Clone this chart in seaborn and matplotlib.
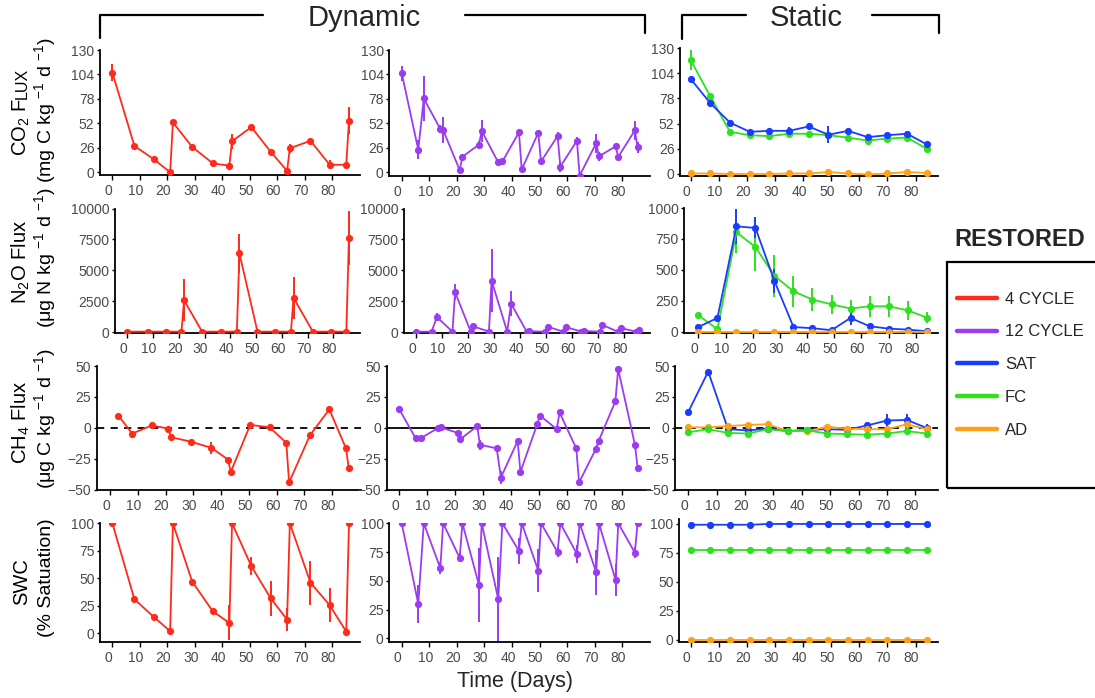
import matplotlib
matplotlib.use("Agg")
import matplotlib.pyplot as plt
import pandas as pd
import seaborn as sns
from matplotlib.lines import Line2D
from matplotlib.patches import Rectangle
from matplotlib.transforms import ScaledTranslation

# ------------------------------------------------------------------ data
# Dynamic, 4 rewetting cycles
days_4cycle = [0, 8, 15, 21, 22, 29, 36.5, 42.5, 43.5, 50.5, 57.5, 63.5, 64.5, 72, 79, 85, 86]
days_4cycle_ch4 = [3, 8, 15, 21, 22, 29, 36.5, 42.5, 43.5, 50.5, 57.5, 63.5, 64.5, 72, 79, 85, 86]
co2_4cycle = [106, 28, 14, 0, 53, 27, 9.5, 7, 33, 48, 22, 1.5, 25.5, 33.5, 8, 8, 55]
co2_4cycle_se = [9, 3, 2, 1, 2, 2, 1.5, 2, 8, 2, 2, 1, 5, 2, 5, 2, 14]
n2o_4cycle = [30, 30, 30, 30, 2580, 30, 30, 30, 6370, 30, 30, 30, 2770, 30, 30, 30, 7600]
n2o_4cycle_se = [20, 20, 20, 20, 1680, 20, 20, 20, 1570, 20, 20, 20, 1680, 20, 20, 20, 2200]
ch4_4cycle = [10, -4.5, 2, -0.5, -7.5, -11, -16, -25.5, -35.5, 2.5, 0.5, -12, -44, -6, 15, -16.5, -32.5]
ch4_4cycle_se = [1, 1, 1, 1, 1, 1, 5, 1.5, 2, 1, 1, 1.5, 2, 1, 1.5, 2, 2]
swc_4cycle = [100, 31, 15, 2, 100, 47, 20, 9.5, 100, 61, 32, 12.5, 100, 46, 25.5, 1.5, 100]
swc_4cycle_se = [0, 2, 2, 2, 0, 2, 2, 16, 0, 8, 16, 10.5, 0, 20, 15.5, 3, 0]

# Dynamic, 12 rewetting cycles
days_12cycle = [0, 6, 8, 14, 15, 21, 22, 28, 29, 35, 36.5, 42.5, 43.5, 49.5, 50.5,
                56.5, 57.5, 63.5, 64.5, 70.5, 71.5, 77.5, 78.5, 84.5, 85.5]
co2_12cycle = [105.5, 24, 78.5, 46, 45, 2.5, 16.5, 29.5, 44, 10.5, 11.5, 42.5, 3, 42, 11.5,
               38.5, 6, 33.5, -3.5, 31, 17, 27.5, 16.5, 44.5, 26.5]
co2_12cycle_se = [8, 10, 24, 4, 13.5, 1.5, 3, 4, 11.5, 3, 2, 4, 1.5, 2, 2,
                  4, 6, 4, 1.5, 10, 5, 2, 3, 10, 6]
n2o_12cycle = [30, 30, 1210, 30, 3225, 30, 460, 30, 4170, 30, 2290, 30, 60, 30, 435,
               30, 403, 30, 80, 30, 565, 30, 323, 30, 194]
n2o_12cycle_se = [10, 10, 300, 10, 640, 10, 100, 10, 2550, 10, 1030, 10, 30, 10, 80,
                  10, 80, 10, 30, 10, 100, 10, 60, 10, 60]
ch4_12cycle = [15.5, -8.5, -8, 0, 0.5, -4, -9, 1.5, -13.5, -16.5, -40, -10.5, -35.5, 3, 10,
               -1, 12.5, -16.5, -44, -17, -10.5, 21.5, 47.5, -13.5, -32.5]
ch4_12cycle_se = [1, 1, 1, 1, 1, 1, 1, 1, 4, 1, 5, 1, 1, 1, 1,
                  1, 1, 1, 1, 1, 1, 1, 1, 1, 1]
swc_12cycle = [100, 30, 100, 61, 100, 70, 100, 46.5, 100, 34, 100, 76, 100, 59, 100,
               75, 100, 73.5, 100, 57.5, 100, 51, 100, 74.5, 100]
swc_12cycle_se = [0, 16.5, 0, 5, 0, 4, 0, 32, 0, 37, 0, 11, 0, 19, 0,
                  4, 0, 8, 0, 19.5, 0, 14, 0, 5, 0]

# Static moisture treatments
days_static = [0, 7, 14, 21, 28, 35, 42, 49, 56, 63, 70, 77, 84]
co2_sat = [98, 73, 53, 43.5, 44.5, 44.5, 49, 40.5, 44.5, 38, 40, 41.5, 30.5]
co2_sat_se = [2, 2, 2, 2, 2, 4, 4, 9, 2, 2, 2, 2, 2]
co2_fc = [117.5, 80, 43.5, 40, 39, 41.5, 41.5, 40, 37.5, 34.5, 36.5, 37.5, 26]
co2_fc_se = [10, 4, 2, 2, 2, 2, 3, 3, 3, 3, 3, 3, 2]
co2_ad = [0.5, 0.5, 0, 0, 0, 0.5, 0.5, 2, 0.5, -0.5, 0.5, 2, 1]
co2_ad_se = [1, 1, 1, 1, 1, 1, 1, 1, 1, 1, 1, 1, 1]
n2o_sat = [40, 113, 852, 839, 411, 40, 30, 14, 113, 46, 27, 19, 6]
n2o_sat_se = [10, 20, 140, 85, 100, 10, 10, 10, 60, 10, 10, 10, 5]
n2o_fc = [135, 22, 804, 685, 452, 328, 261, 223, 189, 207, 207, 175, 116]
n2o_fc_se = [10, 10, 170, 190, 170, 125, 90, 75, 65, 85, 85, 75, 45]
n2o_ad = [2, 2, 2, 2, 2, 2, 2, 2, 2, 2, 2, 2, 2]
n2o_ad_se = [1, 1, 1, 1, 1, 1, 1, 1, 1, 1, 1, 1, 1]
ch4_sat = [13, 45.5, -1, -2, -0.5, -2.5, -1.5, -1, -1.5, 2, 6, 6.5, 0]
ch4_sat_se = [1, 1, 1, 1, 1, 1, 1, 1, 1, 1, 5, 5, 3]
ch4_fc = [-3.5, -1, -4, -4.5, -1, -2.5, -2, -4.5, -5, -5.5, -4.5, -2.5, -4.5]
ch4_fc_se = [1, 1, 1, 1, 1, 1, 1, 1, 1, 1, 1, 1, 1]
ch4_ad = [0.5, 0.5, 1.5, 2.5, 3, -2.5, -2.5, 1, -0.5, -1, -1, 3, -1]
ch4_ad_se = [1, 1, 1, 1, 1, 1, 1, 1, 1, 1, 1, 1, 1]
swc_sat = [99.3, 99.3, 99.3, 99.3, 100, 100, 100, 100, 100, 100, 100, 100, 100]
swc_fc = [77.5, 77.5, 77.5, 77.5, 77.5, 77.5, 77.5, 77.5, 77.5, 77.5, 77.5, 77.5, 77.5]
swc_ad = [0.3, 0.3, 0.3, 0.3, 0.3, 0.3, 0.3, 0.3, 0.3, 0.3, 0.3, 0.3, 0.3]
swc_static_se = [0.3, 0.3, 0.3, 0.3, 0.3, 0.3, 0.3, 0.3, 0.3, 0.3, 0.3, 0.3, 0.3]

treatments = ["4 CYCLE", "12 CYCLE", "SAT", "FC", "AD"]
ticks_co2 = [0, 26, 52, 78, 104, 130]
ticks_n2o_dyn = [0, 2500, 5000, 7500, 10000]
ticks_n2o_static = [0, 250, 500, 750, 1000]
ticks_ch4 = [-50, -25, 0, 25, 50]
ticks_swc = [0, 25, 50, 75, 100]
ticks_days = [0, 10, 20, 30, 40, 50, 60, 70, 80]

# ------------------------------------------------------------------ style
colors = {"4 CYCLE": "#ff2a1a", "12 CYCLE": "#9b3cf0", "SAT": "#1a3cff",
          "FC": "#2ee01e", "AD": "#ff9f1a"}

sns.set_theme(style="ticks")
plt.rcParams["font.family"] = ["Liberation Sans", "DejaVu Sans"]
plt.rcParams["mathtext.fontset"] = "custom"
plt.rcParams["mathtext.rm"] = "Liberation Sans"
plt.rcParams["mathtext.it"] = "Liberation Sans:italic"
plt.rcParams["mathtext.bf"] = "Liberation Sans:bold"

W, H = 1095, 698
fig = plt.figure(figsize=(W / 100, H / 100), dpi=100)


def px_rect(left, right, top, bottom):
    return [left / W, 1 - bottom / H, (right - left) / W, (bottom - top) / H]


def draw_series(ax, days, vals, errs, name):
    color = colors[name]
    ax.errorbar(days, vals, yerr=errs, fmt="none", ecolor=color,
                elinewidth=1.4, capsize=0, zorder=2)
    df = pd.DataFrame({"day": days, "value": vals})
    sns.lineplot(data=df, x="day", y="value", ax=ax, color=color, marker="o",
                 markersize=5.2, markeredgewidth=0, linewidth=1.3,
                 estimator=None, sort=False, legend=False, zorder=3)


def style_axis(ax, xlim, ylim, yticks):
    ax.set_xlim(*xlim)
    ax.set_ylim(*ylim)
    ax.set_xticks(ticks_days)
    ax.set_yticks(yticks)
    ax.set_xlabel("")
    ax.set_ylabel("")
    sns.despine(ax=ax)
    for side in ("left", "bottom"):
        ax.spines[side].set_linewidth(1.3)
        ax.spines[side].set_color("black")
    ax.tick_params(axis="both", direction="out", width=1.0, color="black",
                   labelsize=10, labelcolor="#4a4a4a")
    ax.tick_params(axis="x", length=3.5, pad=3)
    ax.tick_params(axis="y", length=2.5, pad=1.5)
    shift = ScaledTranslation(-4 / 100, 0, fig.dpi_scale_trans)
    for lbl in ax.get_xticklabels():
        lbl.set_transform(lbl.get_transform() + shift)


# panel frames: (left, right, top, bottom) in pixels, x range, y range
frames = {
    ("co2", 0): ((100, 360, 50, 175.3), (-4.5, 90), (-3.2, 130)),
    ("co2", 1): ((389.3, 650, 50, 175.7), (-4.5, 90), (-3.6, 130)),
    ("co2", 2): ((680, 938, 48, 175.7), (-3.8, 88), (-1.8, 130)),
    ("n2o", 0): ((115, 360, 208.5, 333), (-4.8, 90.3), (-80, 10000)),
    ("n2o", 1): ((404, 650, 208.5, 333), (-4.6, 89.8), (-80, 10000)),
    ("n2o", 2): ((684, 938, 208, 332.7), (-5.3, 88.2), (-6, 1000)),
    ("ch4", 0): ((96.7, 360.7, 366, 490.3), (-4.8, 90.3), (-50.3, 50)),
    ("ch4", 1): ((386.7, 650, 366, 490.3), (-4.4, 89.9), (-50.3, 50)),
    ("ch4", 2): ((675, 938, 366, 490.3), (-4.7, 88), (-50.3, 50)),
    ("swc", 0): ((100, 360, 523.3, 641.7), (-4.5, 90), (-7.6, 100)),
    ("swc", 1): ((389.3, 650, 523.3, 641.7), (-4.5, 90), (-2.8, 100)),
    ("swc", 2): ((679, 938, 519.3, 641.7), (-4.2, 88), (-1.5, 104)),
}

yticks = {"co2": [ticks_co2] * 3,
          "n2o": [ticks_n2o_dyn, ticks_n2o_dyn, ticks_n2o_static],
          "ch4": [ticks_ch4] * 3,
          "swc": [ticks_swc] * 3}

series = {
    ("co2", 0): [(days_4cycle, co2_4cycle, co2_4cycle_se, "4 CYCLE")],
    ("co2", 1): [(days_12cycle, co2_12cycle, co2_12cycle_se, "12 CYCLE")],
    ("co2", 2): [(days_static, co2_fc, co2_fc_se, "FC"),
                 (days_static, co2_sat, co2_sat_se, "SAT"),
                 (days_static, co2_ad, co2_ad_se, "AD")],
    ("n2o", 0): [(days_4cycle, n2o_4cycle, n2o_4cycle_se, "4 CYCLE")],
    ("n2o", 1): [(days_12cycle, n2o_12cycle, n2o_12cycle_se, "12 CYCLE")],
    ("n2o", 2): [(days_static, n2o_fc, n2o_fc_se, "FC"),
                 (days_static, n2o_sat, n2o_sat_se, "SAT"),
                 (days_static, n2o_ad, n2o_ad_se, "AD")],
    ("ch4", 0): [(days_4cycle_ch4, ch4_4cycle, ch4_4cycle_se, "4 CYCLE")],
    ("ch4", 1): [(days_12cycle, ch4_12cycle, ch4_12cycle_se, "12 CYCLE")],
    ("ch4", 2): [(days_static, ch4_sat, ch4_sat_se, "SAT"),
                 (days_static, ch4_ad, ch4_ad_se, "AD"),
                 (days_static, ch4_fc, ch4_fc_se, "FC")],
    ("swc", 0): [(days_4cycle, swc_4cycle, swc_4cycle_se, "4 CYCLE")],
    ("swc", 1): [(days_12cycle, swc_12cycle, swc_12cycle_se, "12 CYCLE")],
    ("swc", 2): [(days_static, swc_sat, swc_static_se, "SAT"),
                 (days_static, swc_fc, swc_static_se, "FC"),
                 (days_static, swc_ad, swc_static_se, "AD")],
}

for (row, col), (box, xlim, ylim) in frames.items():
    ax = fig.add_axes(px_rect(*box))
    if row == "ch4":
        ax.axhline(0, color="black", lw=1.3, zorder=1,
                   ls="-" if col == 1 else (0, (4, 3.5)))
    for days, vals, errs, name in series[(row, col)]:
        draw_series(ax, days, vals, errs, name)
    style_axis(ax, xlim, ylim, yticks[row][col])

# ------------------------------------------------------------------ axis titles
renderer = fig.canvas.get_renderer()


def row_label(parts, x_base, y_center):
    texts = []
    for s, size in parts:
        texts.append(fig.text(x_base / W, 0, s, rotation=90, rotation_mode="anchor",
                              ha="left", va="baseline", fontsize=size, color="black"))
    lengths = [t.get_window_extent(renderer).height for t in texts]
    start = (H - y_center) - sum(lengths) / 2
    for t, L in zip(texts, lengths):
        t.set_position((x_base / W, start / H))
        start += L


row_label([("CO$_2$ F", 14.5), ("LUX", 11.5)], 27, 112)
row_label([("(mg C kg $^{-1}$ d $^{-1}$)", 14)], 51, 110)
row_label([("N$_2$O Flux", 14.5)], 27, 262)
row_label([("(μg N kg $^{-1}$ d $^{-1}$)", 14)], 51, 258)
row_label([("CH$_4$ Flux", 14.5)], 27, 422)
row_label([("(μg C kg $^{-1}$ d $^{-1}$)", 14)], 51, 419)
row_label([("SWC", 14.5)], 27, 582)
row_label([("(% Satuation)", 14)], 51, 578)

fig.text(515 / W, 1 - 681 / H, "Time (Days)", fontsize=15.5, ha="center", va="center")

# ------------------------------------------------------------------ group headers
fig.text(364 / W, 1 - 18 / H, "Dynamic", fontsize=21, ha="center", va="center")
fig.text(806 / W, 1 - 18 / H, "Static", fontsize=21, ha="center", va="center")
brackets = [
    [(100, 38), (100, 15), (263, 15)],
    [(465, 15), (645, 15), (645, 33)],
    [(681.7, 39), (681.7, 15), (746, 15)],
    [(871.7, 15), (939.3, 15), (939.3, 33)],
]
for pts in brackets:
    fig.add_artist(Line2D([p[0] / W for p in pts], [1 - p[1] / H for p in pts],
                          transform=fig.transFigure, color="black", lw=1.6))

# ------------------------------------------------------------------ legend
fig.add_artist(Rectangle((947 / W, 1 - 488 / H), (1120 - 947) / W, (488 - 262) / H,
                         transform=fig.transFigure, fill=False, ec="black", lw=1.6))
fig.text(1020 / W, 1 - 240 / H, "RESTORED", fontsize=17, fontweight="bold",
         ha="center", va="center")
handles = [Line2D([], [], color=colors[n], lw=3.2) for n in treatments]
fig.legend(handles, treatments, loc="upper left", bbox_to_anchor=(957 / W, 1 - 291.5 / H),
           frameon=False, fontsize=12, handlelength=2.4, handletextpad=0.48,
           labelspacing=1.07, borderpad=0, borderaxespad=0)

fig.savefig("out.png", dpi=100)
